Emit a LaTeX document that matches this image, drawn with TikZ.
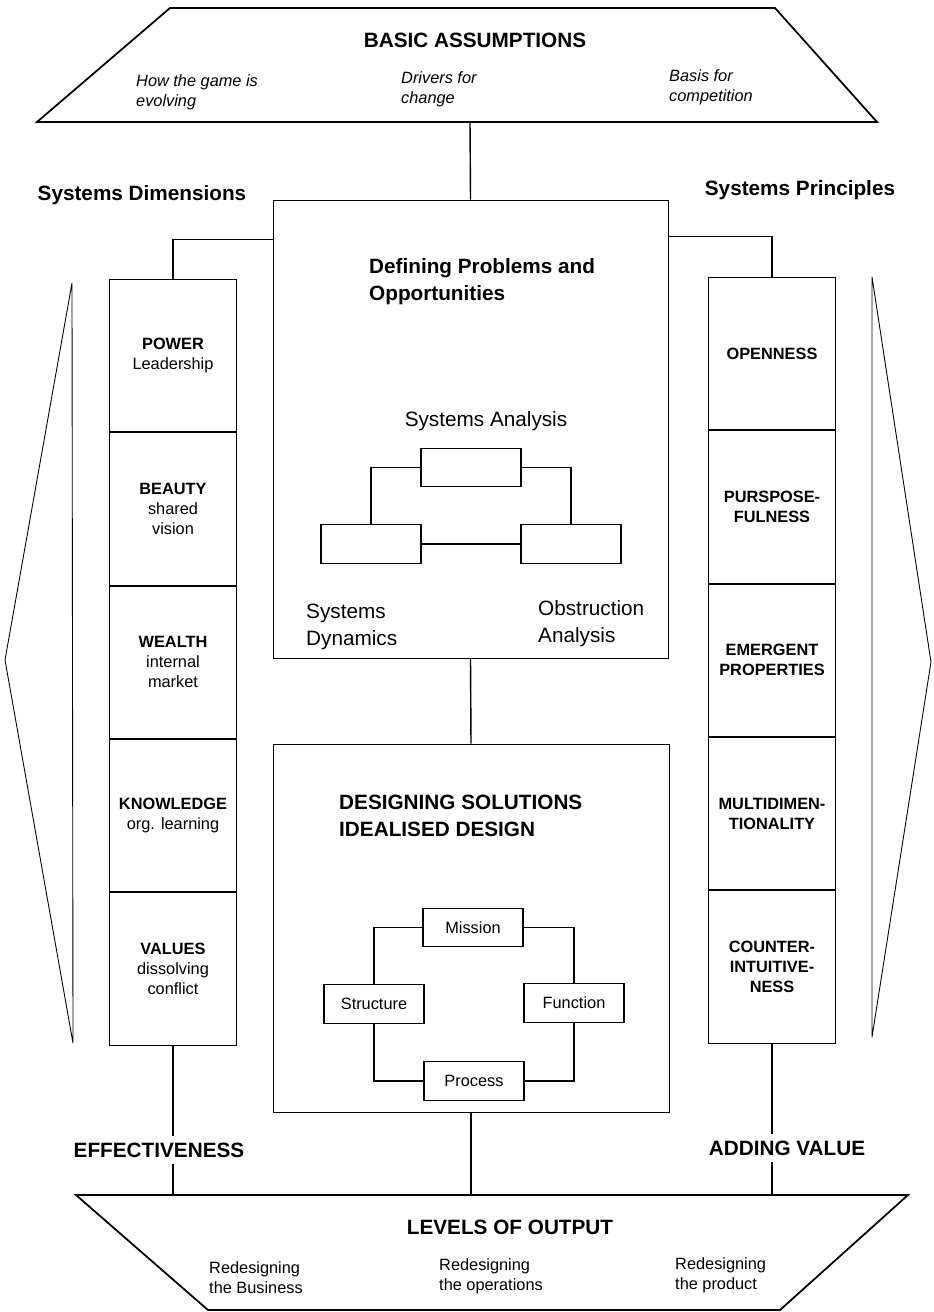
\documentclass[tikz,border=0pt]{standalone}
\usepackage{fontspec}
\setmainfont{Liberation Sans}
\usetikzlibrary{positioning}
\newcommand{\smallfnt}{\fontsize{9.3}{11.4}\selectfont}
\newcommand{\bigfnt}{\fontsize{11.8}{15.4}\selectfont}
\tikzset{
  colbox/.style={draw, line width=0.5pt, minimum width=25.4mm, minimum height=30.5mm, inner sep=0pt, align=center, font=\smallfnt},
  bigbox/.style={draw, line width=0.5pt, inner sep=0pt},
  minibox/.style={draw, line width=0.8pt, minimum width=20mm, minimum height=7.7mm, inner sep=0pt, font=\smallfnt},
  link/.style={line width=0.8pt},
  frame/.style={line width=1pt, line join=miter},
  head/.style={font=\bigfnt\bfseries, align=left},
  note/.style={font=\smallfnt, align=left, anchor=west},
}
\begin{document}
\begin{tikzpicture}[x=0.2mm, y=-0.2mm]
  \useasboundingbox (0,0) rectangle (933,1312);
  % top and bottom frames
  \draw[frame] (170,8) -- (775,8) -- (877,122) -- (37,122) -- cycle;
  \coordinate (ba) at (470,122);
  \node[head] (basic) at (475,40) {BASIC ASSUMPTIONS};
  \node[note, font=\smallfnt\itshape] (game) at (130,92) {How the game is\\evolving};
  \node[note, font=\smallfnt\itshape] (drivers) at (395,89) {Drivers for\\change};
  \node[note, font=\smallfnt\itshape] (basis) at (663,87) {Basis for\\competition};

  \draw[frame] (76,1195) -- (908,1195) -- (780,1310) -- (208,1310) -- cycle;
  \coordinate (lo) at (474,1195);
  \node[head] (levels) at (510,1227) {LEVELS OF OUTPUT};
  \node[note] (rbus) at (203,1278) {Redesigning\\the Business};
  \node[note] (rops) at (433,1276) {Redesigning\\the operations};
  \node[note] (rprod) at (669,1275) {Redesigning\\the product};

  % side arrows
  \draw[line width=0.5pt] (72,283) -- (5,660) -- (73,1043) -- cycle;
  \draw[line width=0.5pt] (872,277) -- (931,662) -- (872,1037) -- cycle;

  % columns
  \node[head] (dimhead) at (142,195) {Systems Dimensions};
  \node[head] (prinhead) at (800,190) {Systems Principles};

  \node[colbox] (pow) at (173,355.5) {\textbf{POWER}\\Leadership};
  \node[colbox, below=0pt of pow] (bea) {\textbf{BEAUTY}\\shared\\vision};
  \node[colbox, below=0pt of bea] (wea) {\textbf{WEALTH}\\internal\\market};
  \node[colbox, below=0pt of wea] (kno) {\textbf{KNOWLEDGE}\\org. learning};
  \node[colbox, below=0pt of kno] (val) {\textbf{VALUES}\\dissolving\\conflict};

  \node[colbox, font=\smallfnt\bfseries] (open) at (772,353.5) {OPENNESS};
  \node[colbox, font=\smallfnt\bfseries, below=0pt of open] (purp) {PURSPOSE-\\FULNESS};
  \node[colbox, font=\smallfnt\bfseries, below=0pt of purp] (emer) {EMERGENT\\PROPERTIES};
  \node[colbox, font=\smallfnt\bfseries, below=0pt of emer] (multi) {MULTIDIMEN-\\TIONALITY};
  \node[colbox, font=\smallfnt\bfseries, below=0pt of multi] (count) {COUNTER-\\INTUITIVE-\\NESS};

  % centre boxes
  \node[bigbox, minimum width=79mm, minimum height=91.6mm] (prob) at (470.5,429) {};
  \node[head, anchor=west] (probhead) at (363,282) {Defining Problems and\\Opportunities};
  \node[minibox] (satop) at (471,467.5) {};
  \node[minibox] (saleft) at (371,544) {};
  \node[minibox] (saright) at (571,544) {};
  \node[font=\bigfnt] (salbl) at (486,421) {Systems Analysis};
  \node[font=\bigfnt, align=left, anchor=west] (sdyn) at (300,627) {Systems\\Dynamics};
  \node[font=\bigfnt, align=left, anchor=west] (obst) at (532,624) {Obstruction\\Analysis};
  \draw[link] (satop.west) -| (saleft.north);
  \draw[link] (satop.east) -| (saright.north);
  \draw[link] (saleft) -- (saright);

  \node[bigbox, minimum width=79.2mm, minimum height=73.6mm] (design) at (471,928) {};
  \node[head, anchor=west] (deshead) at (333,816) {DESIGNING SOLUTIONS\\IDEALISED DESIGN};
  \node[minibox] (mission) at (473,927.5) {Mission};
  \node[minibox] (structure) at (374,1004) {Structure};
  \node[minibox] (function) at (574,1003) {Function};
  \node[minibox] (process) at (474,1081) {Process};
  \draw[link] (mission.west) -| (structure.north);
  \draw[link] (mission.east) -| (function.north);
  \draw[link] (structure.south) |- (process.west);
  \draw[link] (function.south) |- (process.east);

  % links between parts
  \draw[link] (ba) -- (prob.north);
  \draw[link] (prob.south) -- (design.north);
  \draw[link] (pow.north) |- ([yshift=-8mm]prob.north west);
  \draw[link] (open.north) |- ([yshift=-7.4mm]prob.north east);

  \node[head] (eff) at (159,1150) {EFFECTIVENESS};
  \node[head] (addv) at (787,1148) {ADDING VALUE};
  \draw[link] (val.south) -- (val.south |- eff.north);
  \draw[link] (val.south |- eff.south) -- (val.south |- lo);
  \draw[link] (count.south) -- (count.south |- addv.north);
  \draw[link] (count.south |- addv.south) -- (count.south |- lo);
  \draw[link] (design.south) -- (design.south |- lo);
\end{tikzpicture}
\end{document}
